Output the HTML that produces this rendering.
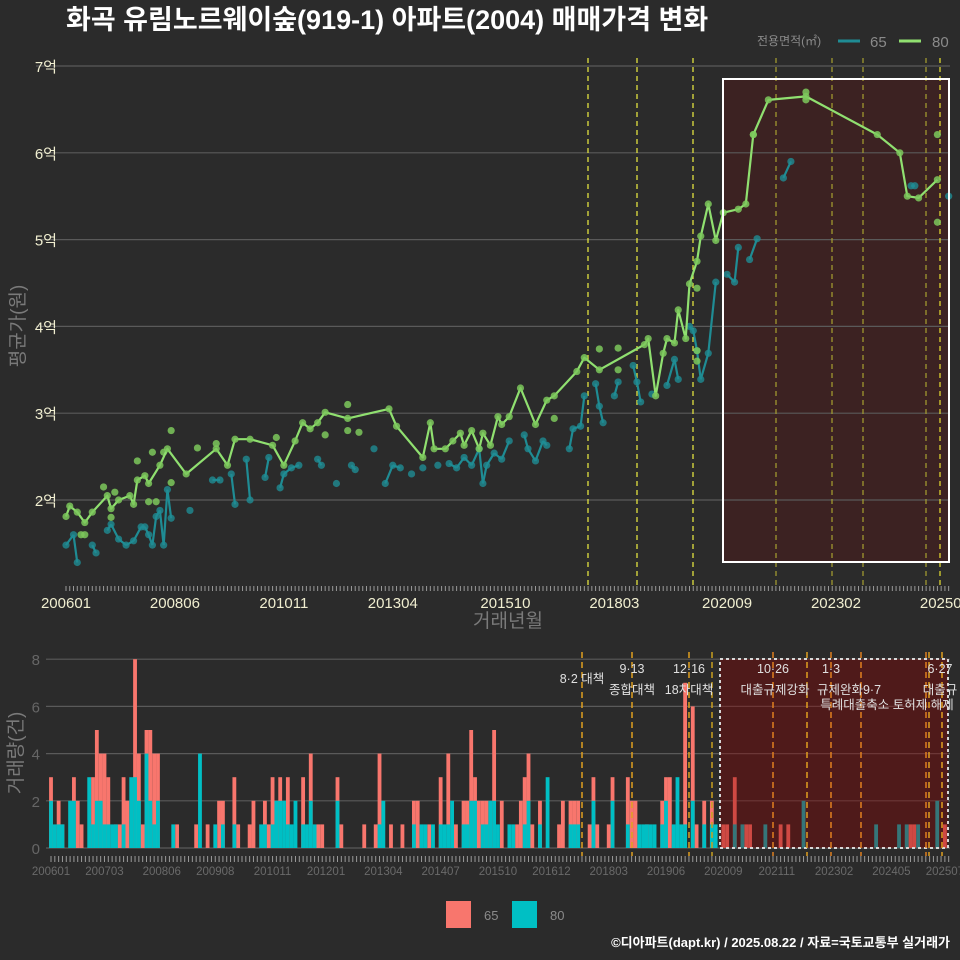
<!DOCTYPE html>
<html><head><meta charset="utf-8">
<style>
html,body{margin:0;padding:0;background:#2b2b2b;}
svg{display:block;font-family:"Liberation Sans","Noto Sans CJK KR",sans-serif;}
</style></head>
<body>
<svg id="chart" width="960" height="960" viewBox="0 0 960 960" xmlns="http://www.w3.org/2000/svg">
<rect x="0" y="0" width="960" height="960" fill="#2b2b2b"/>
<text x="66" y="29" fill="#ffffff" font-size="27" font-weight="bold">화곡 유림노르웨이숲(919-1) 아파트(2004) 매매가격 변화</text>
<g>
<text x="757" y="45" fill="#8a8a8a" font-size="12">전용면적(㎡)</text>
<line x1="838" y1="41" x2="860" y2="41" stroke="#1f8c94" stroke-width="3"/>
<text x="870" y="47" fill="#8a8a8a" font-size="15">65</text>
<line x1="899" y1="41" x2="921" y2="41" stroke="#90e070" stroke-width="3"/>
<text x="932" y="47" fill="#8a8a8a" font-size="15">80</text>
</g>
<g id="topPanel"></g>
<g id="botPanel"></g>
<g>
<rect x="446" y="901" width="25" height="27" fill="#f8766d"/>
<text x="484" y="920" fill="#8a8a8a" font-size="13">65</text>
<rect x="512" y="901" width="25" height="27" fill="#00bfc4"/>
<text x="550" y="920" fill="#8a8a8a" font-size="13">80</text>
</g>
<text x="950" y="947" fill="#ffffff" font-size="13" font-weight="bold" text-anchor="end">©디아파트(dapt.kr) / 2025.08.22 / 자료=국토교통부 실거래가</text>
</svg>
<script>
// ---- data ----
const line80Months=[0,1,3,5,7,11,12,14,17,18,19,21,22,25,27,32,40,43,45,49,55,58,61,63,65,67,69,75,86,88,95,97,98,101,103,105,106,108,110,111,113,115,116,118,121,125,128,130,136,138,142,154,155,157,159,160,162,163,165,166,168,169,171,173,175,179,181,183,187,197,216,222,224,227,232];
const line80Values=[1.81,1.93,1.86,1.74,1.86,2.05,1.90,2.00,2.05,1.95,2.23,2.28,2.19,2.40,2.59,2.30,2.59,2.40,2.70,2.70,2.63,2.40,2.68,2.89,2.82,2.89,3.01,2.94,3.05,2.85,2.49,2.89,2.59,2.59,2.68,2.77,2.63,2.80,2.59,2.77,2.63,2.96,2.87,2.96,3.29,2.87,3.15,3.20,3.48,3.64,3.50,3.79,3.86,3.20,3.69,3.86,3.81,4.19,3.86,4.49,4.75,5.04,5.41,4.99,5.31,5.35,5.41,6.21,6.61,6.65,6.21,6.00,5.50,5.48,5.69];
const extra80Months=[28,28,22,24,5,13,10,19,23,75,75,130,142,147,147,168,168,168,232,232,197,197,183,40,26,4,12,35,56,69,78];
const extra80Values=[2.80,2.20,1.98,1.98,1.60,2.09,2.15,2.45,2.55,3.10,2.80,2.94,3.74,3.75,3.50,3.72,3.60,4.44,5.20,6.21,6.70,6.61,6.21,2.65,2.55,1.60,1.80,2.60,2.72,2.75,2.78];
const pts65Months=[0,2,3,7,8,11,12,14,16,18,20,21,22,23,24,25,26,27,28,33,39,41,44,45,48,49,53,54,57,58,60,62,67,68,72,76,77,82,85,87,89,92,95,99,102,104,106,108,110,111,112,114,116,118,122,123,125,127,128,134,135,137,138,141,142,143,146,147,151,152,153,156,160,162,163,166,167,168,169,171,173,176,178,179,182,184,191,193,225,226,235];
const pts65Values=[1.48,1.60,1.28,1.48,1.39,1.65,1.72,1.55,1.48,1.53,1.69,1.69,1.60,1.48,1.81,1.88,1.48,2.12,1.79,1.88,2.23,2.23,2.30,1.95,2.47,2.00,2.26,2.49,2.14,2.30,2.37,2.40,2.47,2.40,2.19,2.40,2.35,2.59,2.19,2.40,2.37,2.30,2.37,2.40,2.42,2.37,2.49,2.40,2.59,2.19,2.40,2.54,2.47,2.68,2.75,2.59,2.45,2.68,2.63,2.59,2.82,2.85,3.20,3.34,3.08,2.89,3.20,3.36,3.55,3.36,3.13,3.22,3.32,3.62,3.39,4.00,3.95,3.72,3.39,3.69,4.51,4.60,4.51,4.91,4.77,5.01,5.71,5.90,5.62,5.62,5.50];
const yTicks=[2,3,4,5,6,7];
const yTickLabels=["2억","3억","4억","5억","6억","7억"];
const topXMonths=[0,29,58,87,117,146,176,205,234];
const topXLabels=["200601","200806","201011","201304","201510","201803","202009","202302","202507"];
const botXMonths=[0,14,29,43,58,72,87,102,117,131,146,161,176,190,205,220,234];
const botXLabels=["200601","200703","200806","200908","201011","201201","201304","201407","201510","201612","201803","201906","202009","202111","202302","202405","202507"];
const vol65Months=[0,2,3,6,7,8,11,12,13,14,15,17,18,19,20,22,23,24,25,26,27,28,33,38,41,44,45,48,49,52,53,56,57,58,59,60,62,66,68,70,71,75,76,82,85,86,89,92,95,96,99,102,104,106,108,109,110,111,112,113,114,116,118,122,123,124,125,126,128,133,134,136,137,138,141,142,143,146,147,151,152,153,156,160,161,162,166,168,169,171,173,176,177,179,182,183,191,193,225,226,234];
const vol65Values=[3,2,1,3,2,1,3,5,4,4,3,1,1,3,2,8,4,1,5,5,4,4,1,1,1,2,2,3,1,1,2,2,1,3,2,3,3,3,4,1,1,3,1,1,1,4,1,1,2,2,1,3,4,1,2,2,5,3,2,2,2,5,2,1,2,3,4,1,2,1,2,2,2,2,1,3,1,1,3,3,2,2,1,2,3,3,7,6,1,2,2,1,1,3,1,1,1,1,1,1,1];
const vol80Months=[0,1,2,3,5,6,10,11,12,13,14,15,16,17,19,21,22,23,25,26,27,28,32,39,43,45,48,55,56,58,59,60,61,62,63,64,66,67,68,69,75,86,87,95,97,98,100,102,103,104,105,108,109,110,111,113,114,115,116,117,120,121,124,125,128,130,136,137,138,142,147,151,154,155,156,157,158,160,161,163,164,165,166,168,171,173,174,179,181,187,197,216,222,224,227,232];
const vol80Values=[2,1,1,1,2,2,3,1,2,2,1,1,1,1,1,3,3,2,4,2,1,2,1,4,1,1,1,1,1,1,2,2,2,1,1,2,1,1,2,1,2,1,2,1,1,1,1,1,1,1,2,1,1,2,2,1,1,2,2,1,1,1,1,2,1,3,1,1,1,2,2,1,1,1,1,1,1,1,2,1,3,1,1,2,1,1,1,1,1,1,2,1,1,1,1,2];
const volTicks=[0,2,4,6,8];

// ---- helpers ----
const NS="http://www.w3.org/2000/svg";
function mk(tag,attrs,parent){const e=document.createElementNS(NS,tag);for(const k in attrs)e.setAttribute(k,attrs[k]);parent.appendChild(e);return e;}
const tx=m=>66+3.756*m;
const ty=v=>66+(7-v)*86.8;
const bx=m=>51+3.82*m;
const by=v=>848-v*23.6;
const topG=document.getElementById('topPanel');
const botG=document.getElementById('botPanel');

// ---- top panel ----
let boxFill=mk('rect',{x:723,y:79,width:226,height:483,fill:'rgba(130,0,0,0.2)'},topG);


yTicks.forEach((t,i)=>{
  const g=mk('line',{x1:36,x2:950,y1:ty(t),y2:ty(t),stroke:'#5a5a5a','stroke-width':1.2},topG);
  
  
  const l=mk('text',{x:57,y:ty(t)+6,fill:'#f0eed0','font-size':15,'text-anchor':'end'},topG);
  l.textContent=yTickLabels[i];
  
  
});
for(let m=0;m<=235;m++){
  const t=mk('line',{x1:tx(m),x2:tx(m),y1:586,y2:591,stroke:'#9a9a9a','stroke-width':1},topG);
  
  
}
topXMonths.forEach((m,i)=>{
  const l=mk('text',{x:tx(m),y:608,fill:'#f0eed0','font-size':15,'text-anchor':'middle'},topG);
  l.textContent=topXLabels[i];
  
  
});
let yt=mk('text',{x:0,y:0,fill:'#7a7a7a','font-size':19,'text-anchor':'middle',transform:'translate(24,326) rotate(-90)'},topG);
yt.textContent='평균가(원)';


let xt=mk('text',{x:508,y:627,fill:'#7a7a7a','font-size':19,'text-anchor':'middle'},topG);
xt.textContent='거래년월';



const topPolicy=[[588,'#f0f040'],[637,'#f0f040'],[693,'#f0f040'],[776,'#a8a030'],[832,'#a8a030'],[863,'#a8a030'],[926,'#a8a030'],[940,'#e8e030']];
topPolicy.forEach(p=>{
  const l=mk('line',{x1:p[0],x2:p[0],y1:58,y2:586,stroke:p[1],'stroke-width':1.2,'stroke-dasharray':'5,4'},topG);
  
  
});

for(let i=1;i<pts65Months.length;i++){
  if(pts65Months[i]-pts65Months[i-1]<=2){
    const s=mk('line',{x1:tx(pts65Months[i-1]),y1:ty(pts65Values[i-1]),x2:tx(pts65Months[i]),y2:ty(pts65Values[i]),stroke:'#1f8c94','stroke-width':2.2},topG);
    
    
  }
}
pts65Months.forEach((m,i)=>{
  const c=mk('circle',{cx:tx(m),cy:ty(pts65Values[i]),r:3.6,fill:'#1f8c94','fill-opacity':0.8},topG);
  
  
});
extra80Months.forEach((m,i)=>{
  const c=mk('circle',{cx:tx(m),cy:ty(extra80Values[i]),r:3.6,fill:'#7cc85c','fill-opacity':0.85},topG);
  
  
});
let d='';
line80Months.forEach((m,i)=>{d+=(i?'L':'M')+tx(m).toFixed(1)+','+ty(line80Values[i]).toFixed(1);});
let p80=mk('path',{d:d,fill:'none',stroke:'#90e070','stroke-width':2.2,'stroke-linejoin':'round'},topG);


line80Months.forEach((m,i)=>{
  const c=mk('circle',{cx:tx(m),cy:ty(line80Values[i]),r:3.6,fill:'#7cc85c','fill-opacity':0.85},topG);
  
  
});
let box=mk('rect',{x:723,y:79,width:226,height:483,fill:'none',stroke:'#ffffff','stroke-width':2},topG);



// ---- bottom panel ----
volTicks.forEach(t=>{
  const g=mk('line',{x1:46,x2:950,y1:by(t),y2:by(t),stroke:'#5a5a5a','stroke-width':1.2},botG);
  
  
  const l=mk('text',{x:40,y:by(t)+6,fill:'#666','font-size':15,'text-anchor':'end'},botG);
  l.textContent=String(t);
  
  
});
for(let m=0;m<=235;m++){
  const t=mk('line',{x1:bx(m),x2:bx(m),y1:856,y2:862,stroke:'#9a9a9a','stroke-width':1},botG);
  
  
}
botXMonths.forEach((m,i)=>{
  const l=mk('text',{x:bx(m),y:875,fill:'#6a6a6a','font-size':11.5,'text-anchor':'middle'},botG);
  l.textContent=botXLabels[i];
  
  
});
let vyt=mk('text',{x:0,y:0,fill:'#7a7a7a','font-size':19,'text-anchor':'middle',transform:'translate(22,753) rotate(-90)'},botG);
vyt.textContent='거래량(건)';


vol65Months.forEach((m,i)=>{
  const r=mk('rect',{x:bx(m)-1.91,y:by(vol65Values[i]),width:3.82,height:vol65Values[i]*23.6,fill:'#f8766d'},botG);
  
  
});
vol80Months.forEach((m,i)=>{
  const r=mk('rect',{x:bx(m)-1.91,y:by(vol80Values[i]),width:3.82,height:vol80Values[i]*23.6,fill:'#00bfc4'},botG);
  
  
});
let bbox=mk('rect',{x:720,y:659,width:228,height:189,fill:'rgba(139,0,0,0.38)',stroke:'#d8d8d8','stroke-width':2,'stroke-dasharray':'3,3'},botG);


const botPolicy=[[582,'#e0a020'],[632,'#e0a020'],[689,'#e0a020'],[712,'#c8a020'],[773,'#e08020'],[807,'#e0a020'],[831,'#e08020'],[861,'#e08020'],[926,'#e08020'],[929,'#e0a020'],[942,'#e0a020']];
botPolicy.forEach(p=>{
  const l=mk('line',{x1:p[0],x2:p[0],y1:652,y2:856,stroke:p[1],'stroke-width':1.5,'stroke-dasharray':'6,4'},botG);
  
  
});
const ann=[[582,683,'8·2 대책'],[632,673,'9·13'],[632,694,'종합대책'],[689,673,'12·16'],[689,694,'18차대책'],[773,673,'10·26'],[775,694,'대출규제강화'],[831,673,'1·3'],[849,694,'규제완화9·7'],[887,709,'특례대출축소 토허제 해제'],[940,673,'6·27'],[940,694,'대출규']];
ann.forEach(a=>{
  const t=mk('text',{x:a[0],y:a[1],fill:'#e0e0e0','font-size':12.5,'text-anchor':'middle'},botG);
  t.textContent=a[2];
  
  
});
</script>
</body></html>
